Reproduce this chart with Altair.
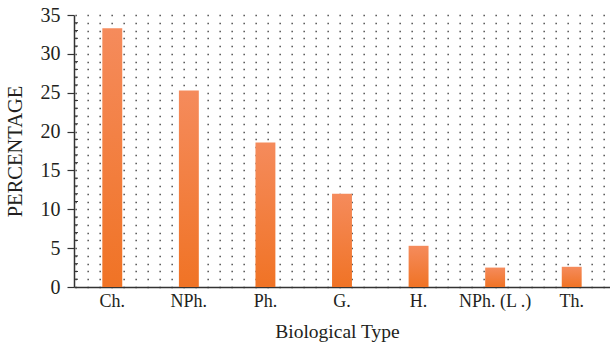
import altair as alt
import pandas as pd

categories = ["Ch.", "NPh.", "Ph.", "G.", "H.", "NPh. (L .)", "Th."]
percentages = [33.3, 25.3, 18.6, 12.0, 5.3, 2.5, 2.6]
grid_values = list(range(0, 36))
minor_ticks = [v for v in range(1, 35) if v % 5 != 0]

FONT = "Liberation Serif"
TXT = "#231f20"

df = pd.DataFrame({"type": categories, "pct": percentages})
ticks_df = pd.DataFrame({"pct": minor_ticks})

y_scale = alt.Scale(domain=[0, 35], nice=False)
y_axis = alt.Axis(title="PERCENTAGE", values=grid_values,
                  labelExpr="datum.value % 5 === 0 ? datum.label : ''",
                  labelOverlap=False,
                  tickSize=7,
                  tickOpacity={"condition": {"test": "datum.value % 5 === 0", "value": 1}, "value": 0},
                  tickColor="#333333", tickWidth=1.2,
                  domainColor="#333333", domainWidth=1.5,
                  grid=True, gridColor="#222222", gridDash=[1.3, 10.7],
                  gridDashOffset=11, gridWidth=1.3, gridOpacity=0.9,
                  labelFont=FONT, labelFontSize=20, labelColor=TXT,
                  labelPadding=7, titleFont=FONT, titleFontSize=20.5,
                  titleFontWeight="normal", titleColor=TXT, titleX=-49)

bars = alt.Chart(df).mark_bar(
    color=alt.LinearGradient(
        gradient="linear",
        stops=[alt.GradientStop(color="#f58b5c", offset=0),
               alt.GradientStop(color="#f07325", offset=1)],
        x1=0, x2=0, y1=0, y2=1,
    )
).encode(
    x=alt.X("type:N", sort=categories,
            scale=alt.Scale(paddingInner=0.74, paddingOuter=0.37),
            axis=alt.Axis(title="Biological Type", labelAngle=0, ticks=False,
                          domainColor="#333333", domainWidth=1.5,
                          labelFont=FONT, labelFontSize=18, labelColor=TXT,
                          labelPadding=5, titleFont=FONT, titleFontSize=19.5,
                          titleFontWeight="normal", titleColor=TXT, titlePadding=12,
                          titleX=263)),
    y=alt.Y("pct:Q", scale=y_scale, axis=y_axis),
)

minor = alt.Chart(ticks_df).mark_rule(color="#333333", strokeWidth=1).encode(
    y=alt.Y("pct:Q", scale=y_scale, axis=y_axis),
    x=alt.value(0),
    x2=alt.value(4),
)

chart = alt.layer(bars, minor).properties(
    width=536, height=272,
    background="white",
    autosize=alt.AutoSizeParams(type="none"),
    padding={"left": 74, "top": 15, "right": 0, "bottom": 62},
).configure_view(stroke=None)

chart.save("out.html", embed_options={"renderer": "svg", "actions": False})
